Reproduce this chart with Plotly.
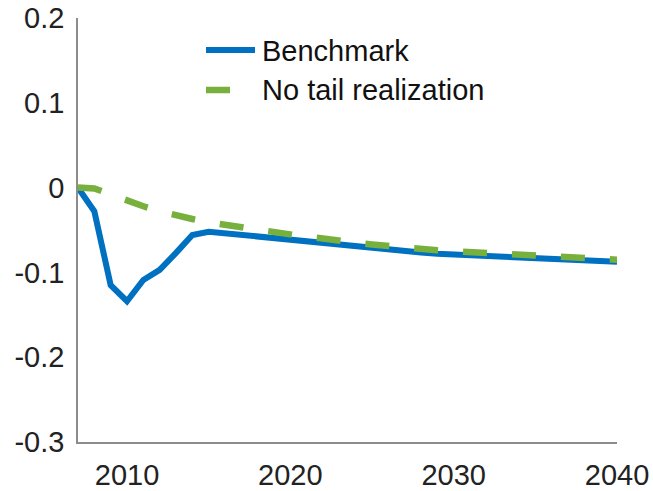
import plotly.graph_objects as go

years = list(range(2007, 2041))
benchmark = [0.0, -0.028, -0.115, -0.134, -0.109, -0.097, -0.077, -0.056, -0.052,
             -0.054, -0.056, -0.058, -0.060, -0.062, -0.064, -0.066, -0.068, -0.070,
             -0.072, -0.0735, -0.075, -0.0765, -0.078, -0.079, -0.080, -0.081, -0.082,
             -0.083, -0.084, -0.085, -0.0855, -0.086, -0.087, -0.0875]
no_tail = [0.0, -0.001, -0.008, -0.016, -0.022, -0.028, -0.033, -0.037, -0.041,
           -0.044, -0.047, -0.050, -0.053, -0.055, -0.058, -0.060, -0.063, -0.065,
           -0.067, -0.069, -0.071, -0.072, -0.074, -0.075, -0.076, -0.077, -0.078,
           -0.079, -0.080, -0.081, -0.082, -0.083, -0.084, -0.085]
series_names = ["Benchmark", "No tail realization"]
x_ticks = [2010, 2020, 2030, 2040]
y_ticks = [0.2, 0.1, 0, -0.1, -0.2, -0.3]
y_labels = ["0.2", "0.1", "0", "-0.1", "-0.2", "-0.3"]

BLUE = "#0070C0"
GREEN = "#77B03C"
FONT = "Liberation Sans, Arial, sans-serif"

fig = go.Figure()
fig.add_trace(go.Scatter(x=years, y=benchmark, mode="lines", name=series_names[0],
                         line=dict(color=BLUE, width=6), showlegend=False))
fig.add_trace(go.Scatter(x=years, y=no_tail, mode="lines", name=series_names[1],
                         line=dict(color=GREEN, width=6.5, dash="24px,25px"),
                         showlegend=False))

# manual legend (longer line samples, as in the reference)
fig.add_shape(type="line", xref="paper", yref="paper", x0=0.2375, x1=0.3284,
              y0=0.9245, y1=0.9245, line=dict(color=BLUE, width=6))
fig.add_shape(type="line", xref="paper", yref="paper", x0=0.2375, x1=0.282,
              y0=0.8302, y1=0.8302, line=dict(color=GREEN, width=6.5))
fig.add_annotation(x=0.337, y=0.921, xref="paper", yref="paper", text=series_names[0],
                   showarrow=False, xanchor="left", yanchor="middle",
                   font=dict(family=FONT, size=29, color="#111111"))
fig.add_annotation(x=0.337, y=0.8302, xref="paper", yref="paper", text=series_names[1],
                   showarrow=False, xanchor="left", yanchor="middle",
                   font=dict(family=FONT, size=29, color="#111111"))

fig.update_layout(
    width=653, height=491,
    margin=dict(l=78, r=36, t=18, b=49),
    paper_bgcolor="white", plot_bgcolor="white",
    font=dict(family=FONT, size=29, color="#222222"),
    showlegend=False,
    xaxis=dict(range=[2007, 2040], tickvals=x_ticks, ticktext=[str(v) for v in x_ticks],
               showgrid=False, zeroline=False, showline=True, linecolor="#8c8c8c",
               linewidth=1.5, ticks="", ticklabelstandoff=6, automargin=False,
               ticklabeloverflow="allow"),
    yaxis=dict(range=[-0.3, 0.2], tickvals=y_ticks, ticktext=y_labels,
               showgrid=False, zeroline=False, showline=True, linecolor="#8c8c8c",
               linewidth=1.5, ticks="", ticklabelstandoff=6, automargin=False,
               ticklabeloverflow="allow"),
)

fig.write_html("out.html", config={"displayModeBar": False},
               post_script="document.body.style.margin='0';document.body.style.overflow='hidden';")
